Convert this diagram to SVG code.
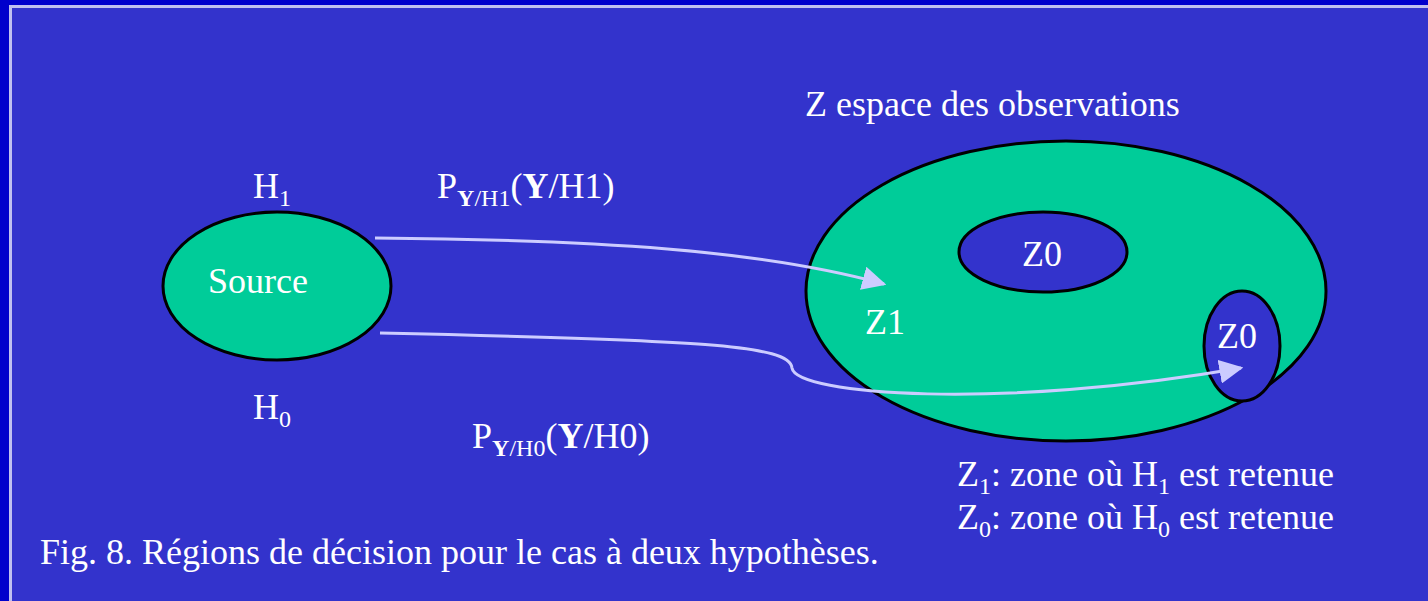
<svg xmlns="http://www.w3.org/2000/svg" width="1428" height="601" viewBox="0 0 1428 601">
<style>
text{font-family:"Liberation Serif","Times New Roman",serif;font-size:36px;fill:#ffffff}
.sub{font-size:24px}
.b{font-weight:bold}
.node{stroke:#000;stroke-width:3}
.con{fill:none;stroke:#ccccff;stroke-width:3}
</style>
<defs>
<marker id="ah" viewBox="0 0 10 10" refX="9" refY="5" markerWidth="24" markerHeight="24" orient="auto" markerUnits="userSpaceOnUse">
<path d="M0,0 L10,5 L0,10 Z" fill="#ccccff"/>
</marker>
</defs>
<rect x="0" y="0" width="1428" height="601" fill="#0000cc"/>
<rect x="10.5" y="6.5" width="1430" height="600" fill="#3333cc" stroke="#c0c0f0" stroke-width="3"/>
<g id="zspace"><ellipse class="node" cx="1066" cy="291" rx="260" ry="150" fill="#00cc99"/></g>
<g id="z0top"><ellipse class="node" cx="1043" cy="252" rx="84" ry="40" fill="#3333cc"/><text x="1022" y="266">Z0</text></g>
<g id="z0small"><ellipse class="node" cx="1242" cy="346" rx="38" ry="55" fill="#3333cc"/><text x="1217" y="348">Z0</text></g>
<g id="source"><ellipse class="node" cx="277" cy="286" rx="114" ry="74" fill="#00cc99"/><text x="208" y="293">Source</text></g>
<g id="connectors">
<path class="con" d="M375,238 C600,240 760,250 884,284" marker-end="url(#ah)"/>
<path class="con" d="M380,333 C700,340 790,345 792,368 C796,395 1000,410 1241,368" marker-end="url(#ah)"/>
</g>
<g id="labels">
<text x="805" y="116">Z espace des observations</text>
<text x="865" y="334">Z1</text>
<text x="253" y="198">H<tspan class="sub" dy="8">1</tspan></text>
<text x="253" y="419">H<tspan class="sub" dy="8">0</tspan></text>
<text x="437" y="198">P<tspan class="sub b" dy="8">Y</tspan><tspan class="sub">/H1</tspan><tspan dy="-8">(</tspan><tspan class="b">Y</tspan>/H1)</text>
<text x="472" y="448">P<tspan class="sub b" dy="8">Y</tspan><tspan class="sub">/H0</tspan><tspan dy="-8">(</tspan><tspan class="b">Y</tspan>/H0)</text>
<text x="957" y="486">Z<tspan class="sub" dy="8">1</tspan><tspan dy="-8">: zone où H</tspan><tspan class="sub" dy="8">1</tspan><tspan dy="-8"> est retenue</tspan></text>
<text x="957" y="529">Z<tspan class="sub" dy="8">0</tspan><tspan dy="-8">: zone où H</tspan><tspan class="sub" dy="8">0</tspan><tspan dy="-8"> est retenue</tspan></text>
<text x="40" y="564">Fig. 8. Régions de décision pour le cas à deux hypothèses.</text>
</g>
</svg>
